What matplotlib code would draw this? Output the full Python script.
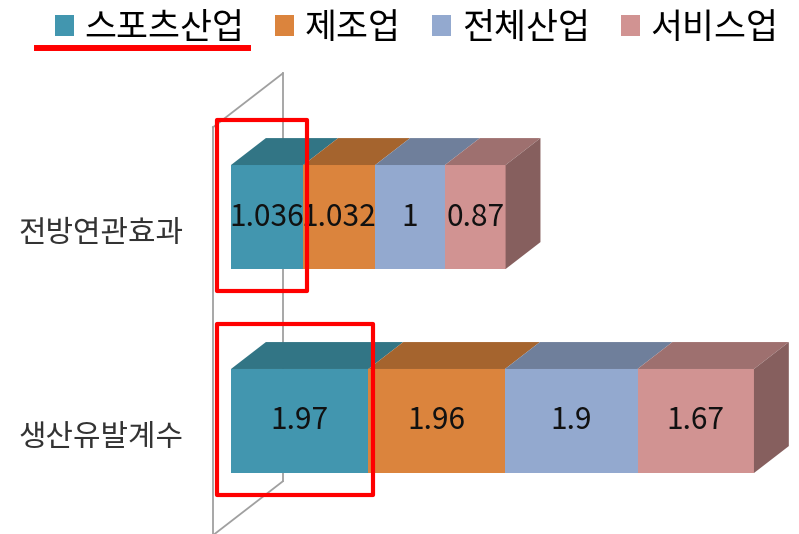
import matplotlib
matplotlib.use('Agg')
import matplotlib.pyplot as plt
from matplotlib.patches import Polygon, Rectangle, Patch
from matplotlib.lines import Line2D

plt.rcParams['font.family'] = ['Noto Sans CJK KR', 'DejaVu Sans']

categories = ['생산유발계수', '전방연관효과']
series = ['스포츠산업', '제조업', '전체산업', '서비스업']
values = {
    '스포츠산업': [1.97, 1.036],
    '제조업': [1.96, 1.032],
    '전체산업': [1.9, 1],
    '서비스업': [1.67, 0.87],
}
labels = {
    '스포츠산업': ['1.97', '1.036'],
    '제조업': ['1.96', '1.032'],
    '전체산업': ['1.9', '1'],
    '서비스업': ['1.67', '0.87'],
}
front = ['#4296AF', '#DB843D', '#93A9CF', '#D19392']
top = ['#327585', '#A5642E', '#6F7F9B', '#9E706F']
side = ['#2A6370', '#8C5527', '#5E6C84', '#865F5E']

bar_h = 0.51
dx, dy = 0.50, 0.132   # depth offset of the 3d boxes

fig = plt.figure(figsize=(7.99, 5.34), dpi=100)
ax = fig.add_axes([0, 0, 1, 1])
ax.set_xlim(-3.313, 8.146)
ax.set_ylim(-0.554, 2.064)
ax.axis('off')

# back wall
wx0, wy0, wh = -0.258, -0.56, 2.0
wall_kw = dict(color='#A0A0A0', lw=1.3, zorder=1)
ax.plot([wx0, wx0], [wy0, wy0 + wh], **wall_kw)
ax.plot([wx0 + 2 * dx, wx0 + 2 * dx], [wy0 + 2 * dy, wy0 + wh + 2 * dy], **wall_kw)
ax.plot([wx0, wx0 + 2 * dx], [wy0 + wh, wy0 + wh + 2 * dy], **wall_kw)
ax.plot([wx0, wx0 + 2 * dx], [wy0, wy0 + 2 * dy], **wall_kw)

for ci, cat in enumerate(categories):
    left = 0
    yb, yt = ci - bar_h / 2, ci + bar_h / 2
    for si, s in enumerate(series):
        v = values[s][ci]
        right = left + v
        ax.add_patch(Rectangle((left, yb), v, bar_h, fc=front[si], ec='none', zorder=3))
        ax.add_patch(Polygon([(left, yt), (right, yt), (right + dx, yt + dy), (left + dx, yt + dy)],
                             fc=top[si], ec='none', zorder=3))
        if si == len(series) - 1:
            ax.add_patch(Polygon([(right, yb), (right + dx, yb + dy), (right + dx, yt + dy), (right, yt)],
                                 fc=side[si], ec='none', zorder=3))
        ax.text(left + v / 2, ci, labels[s][ci], ha='center', va='center',
                fontsize=21.5, color='#111111', zorder=5)
        left = right
    ax.text(-0.68, ci - 0.08, cat, ha='right', va='center', fontsize=21.5, color='#333333')

# highlight boxes around the sports industry segments
for ci in range(len(categories)):
    v = values['스포츠산업'][ci]
    y0 = ci - bar_h / 2 - 0.11
    y1 = ci + bar_h / 2 + dy + 0.09
    ax.add_patch(Rectangle((-0.2, y0), v + 0.26, y1 - y0, fill=False, ec='#FF0000',
                           lw=3, joinstyle='round', zorder=6))

handles = [Patch(fc=c, ec='none') for c in front]
ax.legend(handles, series, ncol=4, loc='upper left', bbox_to_anchor=(0.051, 1.006),
          frameon=False, fontsize=25, handlelength=0.55, handleheight=0.55,
          handletextpad=0.3, columnspacing=0.9, borderaxespad=0)

fig.add_artist(Line2D([37 / 799, 248 / 799], [1 - 48 / 534] * 2, color='#FF0000', lw=4.3,
                      transform=fig.transFigure))

fig.savefig('out.png', dpi=100)
